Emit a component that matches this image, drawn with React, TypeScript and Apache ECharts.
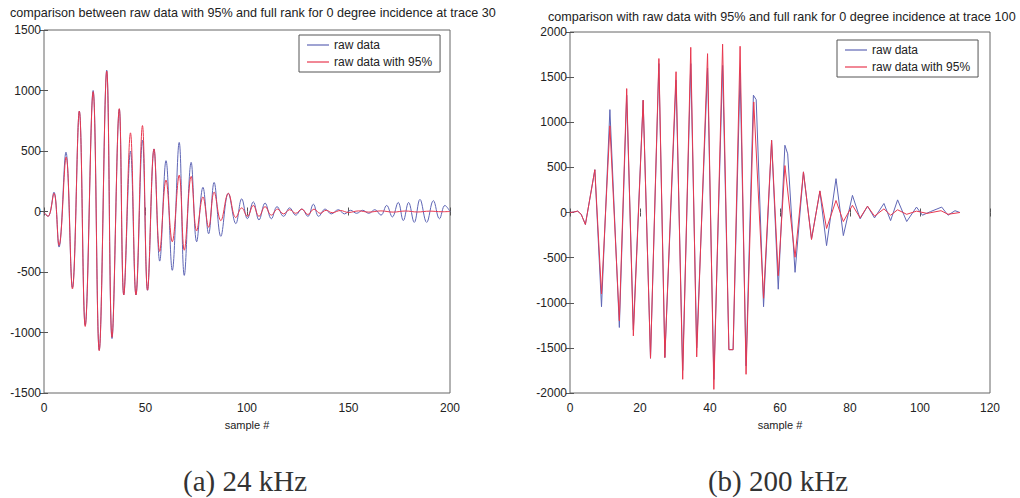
import React, { useEffect, useRef } from "react";
import * as echarts from "echarts";

// ---- Data ----
const seriesNames = ["raw data", "raw data with 95%"];
const titleLeft = "comparison between raw data with 95% and full rank for 0 degree incidence at trace 300";
const titleRight = "comparison with raw data with 95% and full rank for 0 degree incidence at trace 100";
const captions = ["(a) 24 kHz", "(b) 200 kHz"];
const xName = "sample #";

// (a) 24 kHz : [sample, amplitude] at the turning points of each trace
const leftRaw: [number, number][] = [
  [0, -10], [2, -40], [4.9, 160], [7.4, -294], [10.8, 490], [14, -629], [17.4, 830], [20.3, -940],
  [24.2, 1000], [27.2, -1146], [30.9, 1168], [33.5, -1050], [37.1, 847], [39.3, -690], [42.6, 500],
  [45.3, -690], [48.5, 590], [51, -651], [54.2, 517], [57, -410], [60.1, 420], [63.2, -486],
  [66.6, 571], [69.1, -528], [72.5, 406], [75.2, -250], [78.3, 200], [81.1, -184], [83.8, 240],
  [87.1, -205], [90.8, 150], [94.5, -100], [97.4, 105], [100.2, -60], [103.1, 80], [105.9, -70],
  [108.9, 70], [112, -60], [114.8, 40], [118, -40], [121, 30], [124, -30], [127, 20], [130, -40],
  [132.7, 60], [135.3, -40], [138.5, 20], [141.5, -20], [145, 15], [148, -20], [151, 10], [154, -15],
  [157, 10], [160, -15], [163, 15], [166, -30], [168.8, 50], [171.6, -45], [174.5, 75], [177, -75],
  [179.6, 75], [182.4, -90], [185.2, 100], [188.5, -90], [191.8, 90], [194.8, -60], [197.5, 50], [200, 0],
];
const left95: [number, number][] = [
  [0, -10], [2, -40], [4.9, 150], [7.4, -280], [10.9, 450], [14, -640], [17.4, 830], [20.3, -950],
  [24.2, 990], [27.2, -1150], [30.9, 1160], [33.5, -1040], [37.1, 850], [39.3, -690], [42.6, 650],
  [45.3, -690], [48.5, 710], [51, -650], [54.2, 517], [57, -330], [60.1, 260], [63.2, -250],
  [66.6, 300], [69.1, -320], [72.5, 290], [75.2, -160], [78.3, 120], [81.1, -130], [83.8, 160],
  [87.1, -75], [90.8, 150], [94.5, -50], [97.4, 30], [100.2, -40], [103.1, 50], [105.9, -40],
  [108.9, 40], [112, -30], [115, 20], [118, -20], [121, 15], [124, -15], [127, 20], [130, -25],
  [133, 20], [136, -15], [139, 10], [142, -10], [146, 8], [150, -8], [155, 5], [160, -5], [166, 5],
  [172, -5], [178, 4], [184, -4], [190, 3], [196, -2], [200, 0],
];

// (b) 200 kHz
const rightRaw: [number, number][] = [
  [0, 0], [1, 5], [2.2, 15], [3.2, -20], [4.4, -133], [7.1, 474], [9.0, -1044], [11.4, 1140],
  [14.1, -1274], [16.2, 1300], [18.1, -1300], [20.9, 1244], [23.0, -1615], [25.4, 1650],
  [27.1, -1607], [30.3, 1467], [32.2, -1750], [34.5, 1650], [36.2, -1500], [39.3, 1600],
  [41.1, -1850], [43.6, 1630], [45.4, -1520], [46.6, -1520], [48.6, 1550], [50.3, -1700],
  [52.4, 1300], [53.2, 1250], [55.3, -1044], [57.6, 800], [59.5, -850], [61.4, 745], [62.2, 650],
  [64.3, -663], [66.7, 450], [69, -293], [71.4, 235], [73.3, -367], [76, 375], [78.1, -256],
  [80.7, 190], [82.9, -70], [85, 70], [87, -60], [89.7, 100], [91.6, -90], [93.6, 140], [96.2, -100],
  [99, 60], [100.7, -30], [103, 10], [106.2, 60], [108, -30], [110, 20], [111.4, 0],
];
const right95: [number, number][] = [
  [0, 0], [1, 5], [2.2, 15], [3.2, -20], [4.4, -133], [7.1, 474], [9.0, -903], [11.4, 960],
  [14.1, -1200], [16.2, 1373], [18.1, -1367], [20.9, 1244], [23.0, -1615], [25.4, 1706],
  [27.1, -1607], [30.3, 1560], [32.2, -1848], [34.5, 1830], [36.2, -1600], [39.3, 1760],
  [41.1, -1960], [43.6, 1865], [45.4, -1520], [46.6, -1520], [48.6, 1842], [50.3, -1793],
  [52.5, 1225], [55.3, -950], [57.6, 800], [59.5, -700], [61.4, 520], [64.3, -496], [66.7, 450],
  [69, -300], [71.4, 240], [73.3, -177], [76, 133], [78.1, -100], [80.7, 80], [82.9, -60], [85, 70],
  [87, -40], [89.7, 40], [91.6, -30], [93.6, 30], [96.2, -20], [99, 15], [102, -10], [106, 20],
  [108, -20], [111.4, 0],
];

const leftX = { min: 0, max: 200, interval: 50 };
const leftY = { min: -1500, max: 1500, interval: 500 };
const rightX = { min: 0, max: 120, interval: 20 };
const rightY = { min: -2000, max: 2000, interval: 500 };

const BLUE = "#5f66b5";
const RED = "#e8384f";
const FONT = "Liberation Sans";

function App() {
  const ref = useRef<HTMLDivElement>(null);
  useEffect(() => {
    if (!ref.current) return;
    const chart = echarts.init(ref.current, undefined, { renderer: "svg" });

    const label = { color: "#222", fontSize: 12, fontFamily: FONT, formatter: (v: number) => String(v) };
    const tick = { show: true, inside: true, length: 4, lineStyle: { color: "#555" } };
    const mkX = (grid: number, r: any, pos: "bottom" | "top") => ({
      type: "value", gridIndex: grid, position: pos, min: r.min, max: r.max, interval: r.interval,
      axisLine: { show: false }, axisTick: tick, splitLine: { show: false },
      axisLabel: pos === "bottom" ? { ...label, margin: 9 } : { show: false },
      name: pos === "bottom" ? xName : "", nameLocation: "middle", nameGap: 26,
      nameTextStyle: { color: "#222", fontSize: 11, fontFamily: FONT },
    });
    const mkY = (grid: number, r: any, pos: "left" | "right") => ({
      type: "value", gridIndex: grid, position: pos, min: r.min, max: r.max, interval: r.interval,
      axisLine: { show: false }, axisTick: tick, splitLine: { show: false },
      axisLabel: pos === "left" ? { ...label, margin: 3 } : { show: false },
    });
    const line = (name: string, data: any, xi: number, yi: number, color: string, smooth: number | boolean) => ({
      type: "line", name, data, xAxisIndex: xi, yAxisIndex: yi, symbol: "none", smooth,
      lineStyle: { color, width: 1 }, itemStyle: { color },
    });
    const legend = (left: number, top: number) => ({
      data: seriesNames, left, top, orient: "vertical", icon: "rect", itemWidth: 22, itemHeight: 1.2, itemGap: 3,
      padding: [3, 8, 3, 8], borderColor: "#555", borderWidth: 1, borderRadius: 0,
      textStyle: { color: "#222", fontSize: 12, fontFamily: FONT, lineHeight: 14 },
    });
    const titleStyle = { color: "#222", fontSize: 12.6, fontWeight: "normal", fontFamily: FONT };

    chart.setOption({
      animation: false,
      backgroundColor: "#fff",
      title: [
        { text: titleLeft, left: 10, top: 6, padding: 0, textStyle: { ...titleStyle, width: 492, overflow: "truncate", ellipsis: "" } },
        { text: titleRight, left: 548, top: 10, padding: 0, textStyle: titleStyle },
      ],
      grid: [
        { left: 44, top: 30, width: 406, height: 363, show: true, borderColor: "#666", borderWidth: 1, backgroundColor: "transparent" },
        { left: 570, top: 32, width: 420, height: 361, show: true, borderColor: "#666", borderWidth: 1, backgroundColor: "transparent" },
      ],
      legend: [legend(299, 35), legend(837, 40)],
      xAxis: [mkX(0, leftX, "bottom"), mkX(0, leftX, "top"), mkX(1, rightX, "bottom"), mkX(1, rightX, "top")],
      yAxis: [mkY(0, leftY, "left"), mkY(0, leftY, "right"), mkY(1, rightY, "left"), mkY(1, rightY, "right")],
      series: [
        line(seriesNames[0], leftRaw, 0, 0, BLUE, 0.4),
        line(seriesNames[1], left95, 0, 0, RED, 0.4),
        line(seriesNames[0], rightRaw, 2, 2, BLUE, false),
        line(seriesNames[1], right95, 2, 2, RED, false),
      ],
      graphic: [
        { type: "text", x: 245, y: 481, style: { text: captions[0], fill: "#333", fontSize: 29, fontFamily: "Liberation Serif", align: "center", verticalAlign: "middle" } },
        { type: "text", x: 778, y: 481, style: { text: captions[1], fill: "#333", fontSize: 29, fontFamily: "Liberation Serif", align: "center", verticalAlign: "middle" } },
      ],
    });
    return () => chart.dispose();
  }, []);
  return <div ref={ref} style={{ position: "fixed", left: 0, top: 0, width: 1020, height: 498, background: "#fff" }} />;
}

export default App;
